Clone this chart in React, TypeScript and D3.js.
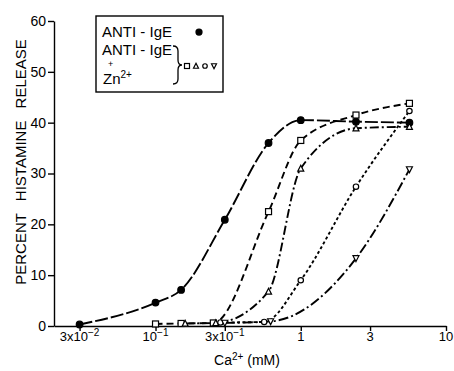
import React, { useRef, useEffect } from "react";
import * as d3 from "d3";

// Ca2+ (mM) vs percent histamine release
const antiIgeX = [0.03, 0.1, 0.15, 0.3, 0.6, 1, 2.4, 5.6];
const antiIgeY = [0.3, 4.6, 7.1, 20.9, 36, 40.5, 40.2, 40];

const squareX = [0.1, 0.15, 0.25, 0.6, 1, 2.4, 5.6];
const squareY = [0.4, 0.5, 0.6, 22.5, 36.5, 41.5, 43.8];

const triangleX = [0.16, 0.26, 0.6, 1, 2.4, 5.6];
const triangleY = [0.5, 0.6, 6.8, 31, 38.9, 39.2];

const circleX = [0.28, 0.56, 1, 2.4, 5.6];
const circleY = [0.7, 0.8, 9, 27.4, 42.3];

const downTriX = [0.3, 0.62, 2.4, 5.6];
const downTriY = [0.6, 0.9, 13.3, 30.8];

const xTicks = [0.03, 0.1, 0.3, 1, 3, 10];
const xTickBase = ["3x10", "10", "3x10", "1", "3", "10"];
const xTickSup = ["\u22122", "\u22121", "\u22121", "", "", ""];
const yTicks = [0, 10, 20, 30, 40, 50, 60];

const FONT = "'Liberation Sans', Arial, sans-serif";

type Marker = "dot" | "square" | "triangle" | "circle" | "downTri";

function drawMarker(
  g: d3.Selection<SVGGElement, unknown, null, undefined>,
  kind: Marker,
  cx: number,
  cy: number,
  s: number
) {
  const common = (sel: any) =>
    sel.attr("fill", kind === "dot" ? "#000" : "#fff").attr("stroke", "#000").attr("stroke-width", 1.2);
  if (kind === "dot") {
    common(g.append("circle").attr("cx", cx).attr("cy", cy).attr("r", s * 0.55));
  } else if (kind === "circle") {
    common(g.append("circle").attr("cx", cx).attr("cy", cy).attr("r", s * 0.45));
  } else if (kind === "square") {
    common(g.append("rect").attr("x", cx - s / 2).attr("y", cy - s / 2).attr("width", s).attr("height", s));
  } else if (kind === "triangle") {
    const h = s * 0.9;
    common(g.append("path").attr("d", `M${cx},${cy - h / 2 - 0.5}L${cx + s / 2},${cy + h / 2}L${cx - s / 2},${cy + h / 2}Z`));
  } else {
    const h = s * 0.9;
    common(g.append("path").attr("d", `M${cx},${cy + h / 2 + 0.5}L${cx + s / 2},${cy - h / 2}L${cx - s / 2},${cy - h / 2}Z`));
  }
}

export default function App() {
  const svgRef = useRef<SVGSVGElement>(null);

  useEffect(() => {
    if (!svgRef.current) return;
    const svg = d3.select(svgRef.current);
    svg.selectAll("*").remove();

    const xScale = d3.scaleLog().domain([0.02, 10]).range([54, 446]);
    const yScale = d3.scaleLinear().domain([0, 60]).range([326, 21]);

    const g = svg.append("g") as d3.Selection<SVGGElement, unknown, null, undefined>;

    // Axes
    const xAxisGroup = g.append("g")
      .attr("transform", `translate(0,${yScale(0)})`)
      .call(d3.axisBottom(xScale).tickValues(xTicks).tickSizeInner(5).tickSizeOuter(0).tickFormat(() => ""));
    xAxisGroup.selectAll("line, path").style("stroke", "#000").style("stroke-width", 1.4);
    xAxisGroup.selectAll(".tick text").remove();

    xTicks.forEach((v, i) => {
      const t = g.append("text")
        .attr("x", xScale(v))
        .attr("y", 341)
        .attr("text-anchor", "middle")
        .style("font-family", FONT)
        .style("font-size", "13px")
        .style("fill", "#000");
      t.append("tspan").text(xTickBase[i]);
      if (xTickSup[i]) {
        t.append("tspan").attr("dy", -5).style("font-size", "10px").text(xTickSup[i]);
      }
    });

    const yAxisGroup = g.append("g")
      .attr("transform", `translate(${xScale(0.02)},0)`)
      .call(d3.axisLeft(yScale).tickValues(yTicks).tickSizeInner(6).tickSizeOuter(0));
    yAxisGroup.selectAll("line, path").style("stroke", "#000").style("stroke-width", 1.4);
    yAxisGroup.selectAll("text")
      .style("font-family", FONT)
      .style("font-size", "14px")
      .style("fill", "#000")
      .attr("x", -8);

    // Axis titles
    const xTitle = g.append("text")
      .attr("x", 247)
      .attr("y", 365)
      .attr("text-anchor", "middle")
      .style("font-family", FONT)
      .style("font-size", "14px")
      .style("fill", "#000");
    xTitle.append("tspan").text("Ca");
    xTitle.append("tspan").attr("dy", -5).style("font-size", "10px").text("2+");
    xTitle.append("tspan").attr("dy", 5).text(" (mM)");

    g.append("text")
      .attr("transform", `translate(26,162) rotate(-90)`)
      .attr("text-anchor", "middle")
      .style("font-family", FONT)
      .style("font-size", "15px")
      .style("word-spacing", "8px")
      .style("fill", "#000")
      .text("PERCENT HISTAMINE RELEASE");

    // Curves
    const series: { xs: number[]; ys: number[]; marker: Marker; dash: string }[] = [
      { xs: antiIgeX, ys: antiIgeY, marker: "dot", dash: "13,3" },
      { xs: squareX, ys: squareY, marker: "square", dash: "7,4" },
      { xs: triangleX, ys: triangleY, marker: "triangle", dash: "9,3,2,3" },
      { xs: circleX, ys: circleY, marker: "circle", dash: "3,2.5" },
      { xs: downTriX, ys: downTriY, marker: "downTri", dash: "10,3,2,3" },
    ];

    const line = d3.line<[number, number]>()
      .x(d => xScale(d[0]))
      .y(d => yScale(d[1]))
      .curve(d3.curveMonotoneX);

    series.forEach(s => {
      const pts = s.xs.map((x, i) => [x, s.ys[i]] as [number, number]);
      g.append("path")
        .datum(pts)
        .attr("fill", "none")
        .attr("stroke", "#000")
        .attr("stroke-width", 1.9)
        .attr("stroke-dasharray", s.dash)
        .attr("d", line);
    });
    series.forEach(s => {
      s.xs.forEach((x, i) => drawMarker(g, s.marker, xScale(x), yScale(s.ys[i]), 6));
    });

    // Legend
    const lg = g.append("g");
    lg.append("rect")
      .attr("x", 96).attr("y", 16).attr("width", 127).attr("height", 76)
      .attr("fill", "#fff").attr("stroke", "#000").attr("stroke-width", 1.4);
    const legendText = (x: number, y: number, size = 15) =>
      lg.append("text").attr("x", x).attr("y", y)
        .style("font-family", FONT).style("font-size", `${size}px`).style("fill", "#000");
    legendText(102, 37).text("ANTI - IgE");
    drawMarker(lg, "dot", 199, 32, 5.5);
    legendText(102, 55).text("ANTI - IgE");
    legendText(108, 67, 9).text("+");
    const zn = legendText(103, 84);
    zn.append("tspan").text("Zn");
    zn.append("tspan").attr("dy", -6).style("font-size", "10px").text("2+");
    lg.append("path")
      .attr("d", "M173,46 Q178,46 178,51 L178,60 Q178,65 182,65 Q178,65 178,70 L178,79 Q178,84 173,84")
      .attr("fill", "none").attr("stroke", "#000").attr("stroke-width", 1.3);
    (["square", "triangle", "circle", "downTri"] as Marker[]).forEach((m, i) =>
      drawMarker(lg, m, 187 + i * 9, 66, 5)
    );
  }, []);

  return (
    <svg
      ref={svgRef}
      width={454}
      height={371}
      style={{ position: "absolute", left: 0, top: 0, background: "#fff", display: "block" }}
    />
  );
}
